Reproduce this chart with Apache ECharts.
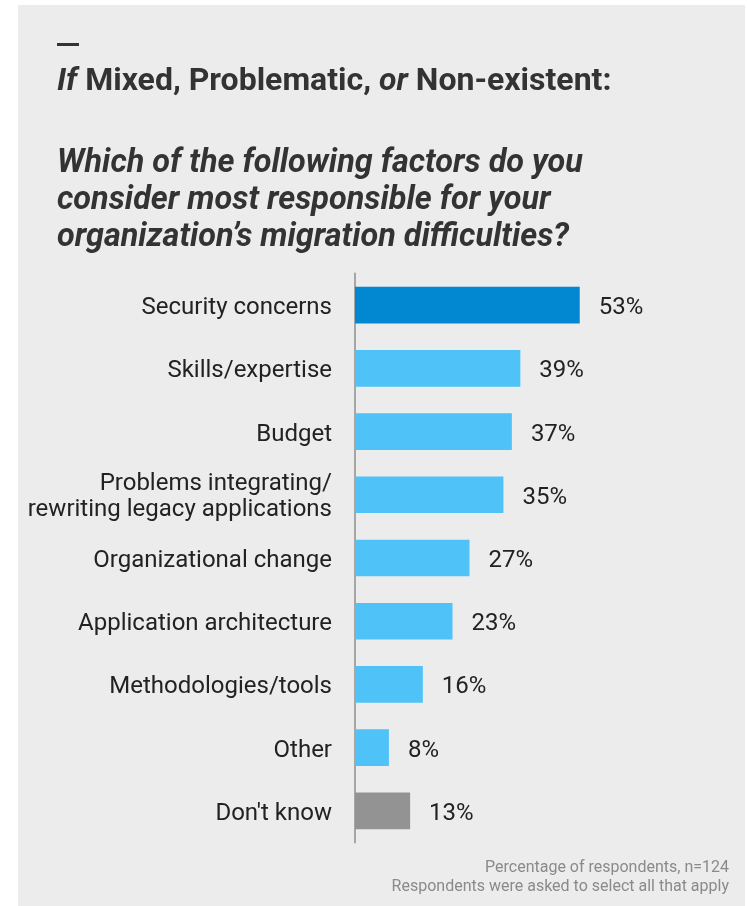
<!DOCTYPE html>
<html>
<head>
<meta charset="utf-8">
<script src="https://cdn.jsdelivr.net/npm/echarts@6/dist/echarts.min.js"></script>
<style>
  html, body { margin: 0; padding: 0; background: #ffffff; }
  #chart { width: 747px; height: 906px; }
</style>
</head>
<body>
<div id="chart"></div>
<script>
// Survey answers: factors behind migration difficulties (% of respondents)
const categories = [
  'Security concerns',
  'Skills/expertise',
  'Budget',
  'Problems integrating/\nrewriting legacy applications',
  'Organizational change',
  'Application architecture',
  'Methodologies/tools',
  'Other',
  "Don't know"
];
const shares = [53, 39, 37, 35, 27, 23, 16, 8, 13];

const headline = ['If', 'Mixed, Problematic,', 'or', 'Non-existent:'];
const questionLines = [
  'Which of the following factors do you',
  'consider most responsible for your',
  'organization\u2019s migration difficulties?'
];
const footnoteLines = [
  'Percentage of respondents, n=124',
  'Respondents were asked to select all that apply'
];

const FONT = 'Roboto';
const HEAD_SIZE = 32;
const QUESTION_SIZE = 32.4;
const TOP_PICK = 'Security concerns';
const NO_ANSWER = "Don't know";

function barColor(name) {
  if (name === TOP_PICK) return '#0288d1';
  if (name === NO_ANSWER) return '#939393';
  return '#4fc3f7';
}

// Category names: lines carry a little top padding so the glyphs sit
// optically centred on their bars
function categoryLabel(name) {
  return name.split('\n').map((line, i) => (i === 0 ? '{p|' : '{t|') + line + '}').join('\n');
}

const chart = echarts.init(document.getElementById('chart'), null, { renderer: 'canvas' });

chart.setOption({
  backgroundColor: '#ffffff',
  animation: false,
  textStyle: { fontFamily: FONT },
  graphic: {
    elements: [
      {
        type: 'rect', z: -10, silent: true,
        shape: { x: 18, y: 5, width: 727, height: 901 },
        style: { fill: '#ececec' }
      },
      {
        type: 'rect', silent: true,
        shape: { x: 57, y: 43, width: 22, height: 3 },
        style: { fill: '#333333' }
      },
      {
        type: 'text', silent: true,
        x: 57, y: 82,
        style: {
          text: '{i|' + headline[0] + '} {b|' + headline[1] + '} {i|' + headline[2] + '} {b|' + headline[3] + '}',
          verticalAlign: 'middle', align: 'left',
          fontFamily: FONT, fontSize: HEAD_SIZE, fontWeight: 'bold', fill: '#333333',
          rich: {
            i: { fontFamily: FONT, fontSize: HEAD_SIZE, fontWeight: 'bold', fontStyle: 'italic', color: '#333333' },
            b: { fontFamily: FONT, fontSize: HEAD_SIZE, fontWeight: 'bold', color: '#333333' }
          }
        }
      },
      {
        type: 'text', silent: true,
        x: 57, y: 145,
        style: {
          text: questionLines.join('\n'),
          verticalAlign: 'top', align: 'left',
          fontFamily: FONT, fontSize: QUESTION_SIZE, fontWeight: 'bold', fontStyle: 'italic',
          lineHeight: 37, fill: '#333333'
        }
      },
      {
        type: 'text', silent: true,
        x: 729, y: 877,
        style: {
          text: footnoteLines.join('\n'),
          verticalAlign: 'middle', align: 'right',
          fontFamily: FONT, fontSize: 16, lineHeight: 19, fill: '#8a8a8a'
        }
      }
    ]
  },
  grid: {
    left: 355, top: 273.5, width: 424, height: 569,
    containLabel: false, outerBoundsMode: 'none'
  },
  xAxis: {
    type: 'value', min: 0, max: 100, show: false
  },
  yAxis: {
    type: 'category',
    inverse: true,
    data: categories,
    axisTick: { show: false },
    splitLine: { show: false },
    axisLine: { show: true, lineStyle: { color: '#a6a6a6', width: 2 } },
    axisLabel: {
      margin: 23, align: 'right',
      formatter: categoryLabel,
      rich: {
        p: { fontFamily: FONT, fontSize: 24, color: '#222222', lineHeight: 27, padding: [6, 0, 0, 0], align: 'right' },
        t: { fontFamily: FONT, fontSize: 24, color: '#222222', lineHeight: 27, padding: [4, 0, 0, 0], align: 'right' }
      }
    }
  },
  series: [{
    type: 'bar',
    data: shares.map((v, i) => ({ value: v, itemStyle: { color: barColor(categories[i]) } })),
    barCategoryGap: '42%',
    z: 1,
    label: {
      show: true, position: 'right', distance: 19, offset: [0, 3],
      formatter: '{c}%',
      fontFamily: FONT, fontSize: 24, color: '#222222'
    }
  }]
});
</script>
</body>
</html>
